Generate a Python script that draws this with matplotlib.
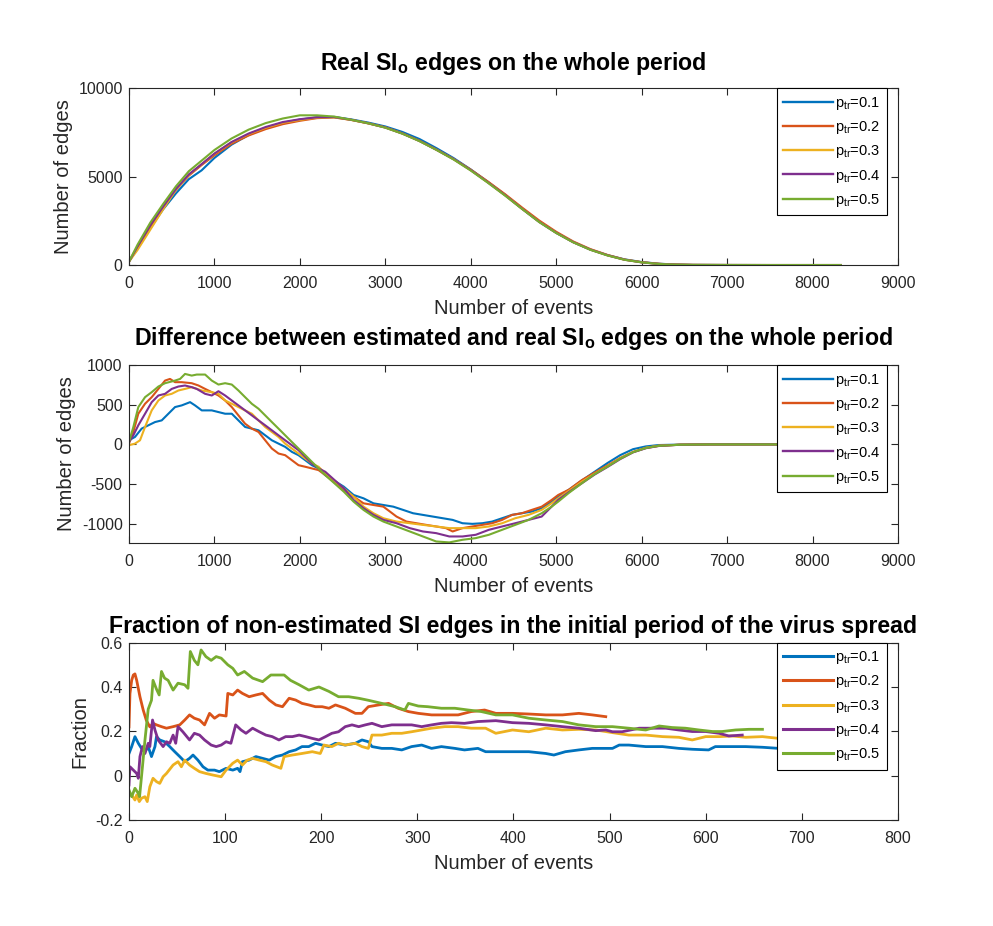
import matplotlib
matplotlib.use("Agg")
import matplotlib.pyplot as plt

plt.rcParams['font.family'] = ['Liberation Sans', 'DejaVu Sans']
plt.rcParams['mathtext.fontset'] = 'custom'
plt.rcParams['mathtext.rm'] = 'Liberation Sans'
plt.rcParams['mathtext.it'] = 'Liberation Sans'
plt.rcParams['mathtext.bf'] = 'Liberation Sans:bold'
plt.rcParams['mathtext.default'] = 'regular'
plt.rcParams['axes.unicode_minus'] = False

COLORS = ['#0072BD', '#D95319', '#EDB120', '#7E2F8E', '#77AC30']
LABELS = [r'p$_{tr}$=0.1', r'p$_{tr}$=0.2', r'p$_{tr}$=0.3', r'p$_{tr}$=0.4', r'p$_{tr}$=0.5']

TITLES = [r'Real SI$_{\mathbf{o}}$ edges on the whole period',
          r'Difference between estimated and real SI$_{\mathbf{o}}$ edges on the whole period',
          'Fraction of non-estimated SI edges in the initial period of the virus spread']

# ---------------- Panel 1: real SI_o edges ----------------
P1_X = [0, 100, 250, 400, 550, 700, 850, 1000, 1200, 1400, 1600, 1800, 2000, 2200, 2400,
        2600, 2800, 3000, 3200, 3400, 3600, 3800, 4000, 4200, 4400, 4600, 4800, 5000,
        5200, 5400, 5600, 5800, 6000, 6200, 6400, 6600, 7000, 7500, 8000, 8330]
P1_BLUE = [190, 950, 2100, 3150, 4050, 4850, 5350, 6050, 6800, 7350, 7750, 8040, 8220, 8340, 8370,
           8230, 8050, 7830, 7520, 7120, 6600, 6040, 5400, 4700, 3970, 3190, 2450, 1820,
           1290, 870, 560, 320, 170, 75, 28, 8, 2, 0, 0, 0]
P1_ORANGE = [190, 1000, 2200, 3250, 4250, 5050, 5650, 6200, 6850, 7320, 7680, 7960, 8150, 8300, 8340,
             8200, 8010, 7780, 7440, 7020, 6520, 5990, 5390, 4720, 4010, 3250, 2520, 1880,
             1330, 900, 570, 310, 160, 70, 25, 8, 2, 0, 0, 0]
P1_YELLOW = [190, 850, 2000, 3150, 4250, 5100, 5700, 6280, 6930, 7400, 7760, 8040, 8200, 8330, 8350,
             8200, 8000, 7770, 7430, 7010, 6510, 5980, 5360, 4670, 3950, 3180, 2450, 1820,
             1290, 870, 550, 300, 155, 65, 22, 7, 2, 0, 0, 0]
P1_PURPLE = [190, 1050, 2250, 3300, 4300, 5120, 5700, 6300, 6950, 7430, 7800, 8080, 8240, 8350, 8360,
             8210, 8010, 7770, 7430, 7010, 6510, 5980, 5360, 4670, 3950, 3180, 2440, 1820,
             1290, 870, 550, 300, 150, 62, 20, 6, 2, 0, 0, 0]
P1_GREEN = [190, 1150, 2400, 3450, 4450, 5300, 5900, 6500, 7150, 7650, 8020, 8280, 8460, 8460, 8390,
            8210, 8010, 7760, 7420, 7000, 6500, 5960, 5340, 4650, 3930, 3170, 2430, 1810,
            1280, 860, 540, 295, 150, 60, 20, 6, 2, 0, 0, 0]

# ---------------- Panel 2: difference ----------------
P2_BLUE_X = [0, 70, 148, 227, 305, 383, 461, 539, 617, 715, 773, 852, 969, 1047, 1125, 1203, 1281,
             1359, 1438, 1516, 1594, 1672, 1750, 1828, 1906, 1984, 2063, 2141, 2219, 2297, 2514,
             2629, 2745, 2861, 2977, 3093, 3208, 3324, 3440, 3556, 3672, 3788, 3903, 4019, 4135,
             4251, 4367, 4483, 4598, 4714, 4830, 4946, 5023, 5150, 5300, 5450, 5600, 5750, 5900,
             6050, 6200, 6450, 6800, 7300, 7900]
P2_BLUE_Y = [52, 94, 199, 241, 282, 303, 387, 471, 492, 533, 492, 429, 429, 408, 387, 387, 303,
             220, 199, 178, 115, 52, 10, -31, -94, -136, -199, -262, -303, -387, -533,
             -638, -680, -743, -764, -785, -826, -868, -889, -910, -931, -952, -994, -1002, -994,
             -973, -931, -889, -868, -847, -805, -722, -659, -570, -455, -345, -235, -135, -60,
             -25, -8, -2, 0, 0, 0]
P2_ORANGE_X = [0, 51, 109, 188, 266, 344, 422, 480, 539, 617, 734, 813, 891, 969, 1047, 1125, 1203,
               1281, 1359, 1438, 1516, 1594, 1672, 1750, 1828, 1906, 1984, 2063, 2141, 2219, 2297,
               2514, 2629, 2745, 2861, 2977, 3054, 3131, 3247, 3363, 3479, 3595, 3710, 3788, 3903,
               4019, 4135, 4251, 4367, 4483, 4598, 4714, 4830, 4946, 5023, 5150, 5300, 5450, 5600,
               5750, 5900, 6050, 6200, 6450, 6800, 7400, 8100]
P2_ORANGE_Y = [10, 157, 387, 513, 596, 700, 805, 826, 785, 785, 772, 743, 700, 659, 617, 554, 471,
               366, 261, 199, 157, 52, -52, -115, -136, -199, -262, -282, -303, -324, -387,
               -575, -659, -743, -764, -785, -847, -910, -973, -994, -1015, -1035, -1056, -1098, -1056,
               -1035, -1015, -994, -952, -889, -868, -826, -785, -701, -638, -570, -450, -355, -265,
               -170, -95, -45, -18, -4, 0, 0, 0]
P2_YELLOW_X = [0, 70, 129, 188, 266, 344, 422, 500, 578, 656, 734, 852, 969, 1047, 1125, 1203, 1281,
               1359, 1438, 1516, 1594, 1672, 1750, 1828, 1906, 1984, 2063, 2141, 2219, 2297, 2514,
               2629, 2745, 2861, 2977, 3131, 3286, 3440, 3595, 3749, 3903, 4058, 4212, 4367, 4521,
               4676, 4830, 4946, 5023, 5150, 5300, 5450, 5600, 5750, 5900, 6050, 6200, 6450, 6800,
               7500, 8000]
P2_YELLOW_Y = [-10, 10, 52, 220, 429, 554, 617, 638, 680, 700, 722, 680, 659, 638, 554, 513, 471,
               429, 387, 303, 220, 157, 94, 10, -52, -115, -178, -241, -282, -366, -554,
               -659, -785, -868, -931, -973, -994, -1015, -1035, -1056, -1056, -1056, -1035, -994, -931,
               -889, -826, -743, -680, -585, -470, -370, -275, -175, -95, -42, -16, -3, 0,
               0, 0]
P2_PURPLE_X = [0, 51, 109, 188, 266, 344, 422, 500, 578, 656, 734, 793, 891, 969, 1047, 1125, 1203,
               1281, 1359, 1438, 1516, 1594, 1672, 1750, 1828, 1906, 1984, 2063, 2141, 2219, 2297,
               2514, 2629, 2745, 2861, 2977, 3131, 3286, 3440, 3595, 3749, 3903, 4058, 4212, 4367,
               4521, 4676, 4830, 4946, 5023, 5150, 5300, 5450, 5600, 5750, 5900, 6050, 6200, 6450,
               6800, 7600, 8200]
P2_PURPLE_Y = [31, 115, 241, 387, 533, 617, 638, 700, 730, 743, 722, 700, 638, 617, 671, 617, 554,
               492, 429, 366, 303, 241, 178, 115, 52, -10, -73, -157, -241, -303, -345,
               -554, -701, -805, -889, -952, -994, -1056, -1098, -1119, -1161, -1161, -1140, -1077, -1035,
               -994, -952, -910, -785, -701, -600, -490, -380, -285, -185, -100, -48, -20, -4,
               0, 0, 0]
P2_GREEN_X = [0, 51, 109, 188, 266, 344, 422, 539, 598, 656, 734, 793, 891, 969, 1047, 1125, 1203,
              1281, 1359, 1438, 1516, 1594, 1672, 1750, 1828, 1906, 1984, 2063, 2141, 2219, 2297,
              2514, 2629, 2745, 2861, 2977, 3131, 3286, 3440, 3595, 3749, 3903, 4058, 4212, 4367,
              4521, 4676, 4830, 4946, 5023, 5150, 5300, 5450, 5600, 5750, 5900, 6050, 6200, 6450,
              6800, 7600, 8330]
P2_GREEN_Y = [31, 220, 470, 596, 659, 730, 772, 805, 826, 889, 868, 881, 881, 805, 755, 772, 755,
              680, 596, 512, 450, 366, 282, 199, 115, 31, -52, -136, -220, -303, -387,
              -596, -722, -826, -910, -973, -1035, -1098, -1161, -1224, -1236, -1203, -1182, -1140, -1077,
              -1015, -952, -868, -785, -722, -610, -490, -375, -280, -180, -98, -45, -18, -4,
              0, 0, 0]

# ---------------- Panel 3: fraction ----------------
P3_BLUE_X = [0, 2.8, 6.2, 9.7, 13, 16.6, 20, 23.4, 27, 28.6, 32, 37, 42.4, 47.6, 52.8, 58, 63, 66.6,
             71.7, 77, 82, 89, 94, 101, 108, 113, 115.5, 118, 125, 132, 139, 145.9, 152.8, 159.7,
             166.6, 173.4, 180, 187, 194, 201, 208, 214.8, 225, 235.5, 242.4, 249, 252.8, 263,
             273.4, 283.8, 294, 304.5, 314.8, 325, 339, 349, 363, 371, 385, 399, 416, 433.6, 442,
             454, 468, 482, 496, 503, 510, 520, 537.6, 555, 572, 586, 603, 610, 627.7, 641.6, 659,
             676, 700, 730, 770]
P3_BLUE_Y = [0.10, 0.131, 0.176, 0.146, 0.123, 0.108, 0.131, 0.086, 0.131, 0.176, 0.161, 0.153, 0.131,
             0.108, 0.086, 0.063, 0.078, 0.093, 0.07, 0.04, 0.025, 0.025, 0.018, 0.033, 0.025, 0.033,
             0.018, 0.063, 0.07, 0.086, 0.078, 0.07, 0.086, 0.093, 0.108, 0.116, 0.131, 0.131, 0.146,
             0.138, 0.131, 0.146, 0.138, 0.146, 0.161, 0.153, 0.131, 0.123, 0.123, 0.116, 0.131,
             0.138, 0.123, 0.131, 0.123, 0.116, 0.123, 0.108, 0.108, 0.108, 0.108, 0.10, 0.093,
             0.108, 0.116, 0.123, 0.123, 0.123, 0.138, 0.138, 0.131, 0.131, 0.123, 0.119, 0.116,
             0.131, 0.131, 0.131, 0.128, 0.123, 0.122, 0.12, 0.12]
P3_ORANGE_X = [0, 1, 2.8, 4.5, 6.2, 8, 11.4, 14.8, 18, 21.7, 25, 28.6, 33.8, 39, 45.9, 52.8, 58, 63,
               68, 73.4, 78.6, 83.8, 89, 94, 101, 102.8, 108, 113, 118, 125, 132, 139, 145.9, 152.8,
               159.7, 166.6, 173.4, 180, 187, 194, 201, 208, 214.8, 225, 235.5, 242.4, 249, 259.7,
               270, 280, 290.7, 301, 314.8, 328.6, 342.4, 356, 370, 381.6, 399, 416, 433.6, 451,
               468, 482, 496]
P3_ORANGE_Y = [0.22, 0.37, 0.43, 0.454, 0.459, 0.43, 0.356, 0.296, 0.25, 0.22, 0.236, 0.229, 0.221,
               0.214, 0.221, 0.229, 0.251, 0.274, 0.259, 0.251, 0.229, 0.281, 0.259, 0.274, 0.269,
               0.371, 0.364, 0.386, 0.371, 0.356, 0.364, 0.371, 0.341, 0.319, 0.311, 0.349, 0.341,
               0.326, 0.319, 0.311, 0.311, 0.304, 0.319, 0.304, 0.281, 0.281, 0.311, 0.319, 0.326,
               0.304, 0.289, 0.281, 0.274, 0.274, 0.274, 0.289, 0.296, 0.281, 0.281, 0.278, 0.274,
               0.274, 0.281, 0.274, 0.266]
P3_YELLOW_X = [0, 2.8, 6.2, 8, 10.7, 13, 16.6, 19, 21.7, 25, 28.6, 32, 35.5, 39, 45.9, 51, 54.5, 58,
               63, 68, 73.4, 80, 87, 95.9, 101, 108, 113, 118, 123, 128.6, 135.5, 142.4, 149, 158,
               161.4, 170, 180, 190.7, 199, 202.8, 211, 218, 225, 235.5, 242.4, 249, 252.8, 263,
               273.4, 283.8, 294, 304.5, 314.8, 328.6, 342.4, 356, 371, 381.6, 399, 416, 433.6, 451,
               468, 485.6, 503, 520, 537.6, 555, 572, 586, 600, 614, 627.7, 641.6, 659, 676, 700,
               730, 760]
P3_YELLOW_Y = [-0.08, -0.087, -0.11, -0.087, -0.117, -0.102, -0.095, -0.117, -0.05, -0.012, -0.027,
               -0.035, -0.005, 0.01, 0.048, 0.063, 0.04, 0.07, 0.048, 0.033, 0.018, 0.01, 0.003,
               -0.005, 0.025, 0.056, 0.07, 0.048, 0.07, 0.078, 0.07, 0.063, 0.048, 0.033, 0.086,
               0.093, 0.10, 0.108, 0.10, 0.138, 0.131, 0.146, 0.138, 0.146, 0.131, 0.123, 0.183,
               0.183, 0.191, 0.191, 0.198, 0.206, 0.214, 0.221, 0.221, 0.214, 0.214, 0.191, 0.206,
               0.198, 0.214, 0.206, 0.209, 0.206, 0.194, 0.183, 0.183, 0.176, 0.173, 0.161, 0.176,
               0.176, 0.179, 0.173, 0.176, 0.168, 0.165, 0.162, 0.16]
P3_PURPLE_X = [0, 1, 4.5, 8, 9.7, 11.4, 14, 16.6, 20, 21.7, 24.5, 27, 30.3, 35.5, 39, 42.4, 45.9,
               48.6, 51, 56, 63, 68, 73.4, 78.6, 85.5, 90.7, 95.9, 101, 106, 111, 116.6, 121.7,
               128.6, 135.5, 142.4, 149, 156, 163, 170, 177, 183.8, 190.7, 197.6, 204.5, 211, 218,
               225, 232, 239, 245.9, 252.8, 263, 273.4, 283.8, 294, 304.5, 314.8, 325, 335.5, 349,
               363, 381.6, 399, 416, 433.6, 451, 468, 485.6, 496, 503, 513, 530.7, 544.6, 558.5,
               572, 586, 600, 614, 624, 638]
P3_PURPLE_Y = [-0.042, 0.04, 0.025, 0.01, -0.012, 0.086, 0.131, 0.10, 0.146, 0.131, 0.251, 0.206,
               0.161, 0.131, 0.153, 0.146, 0.183, 0.146, 0.221, 0.198, 0.161, 0.191, 0.183, 0.161,
               0.138, 0.131, 0.138, 0.153, 0.146, 0.229, 0.206, 0.191, 0.214, 0.198, 0.183, 0.176,
               0.161, 0.176, 0.176, 0.183, 0.176, 0.168, 0.161, 0.176, 0.191, 0.198, 0.221, 0.229,
               0.221, 0.229, 0.236, 0.221, 0.229, 0.229, 0.229, 0.221, 0.229, 0.236, 0.239, 0.236,
               0.244, 0.248, 0.239, 0.236, 0.229, 0.221, 0.214, 0.203, 0.206, 0.198, 0.198, 0.214,
               0.214, 0.214, 0.206, 0.199, 0.199, 0.191, 0.179, 0.183]
P3_GREEN_X = [0, 2.8, 6.2, 9.7, 11, 14, 16.6, 20, 23.4, 25, 28.6, 31.4, 33.8, 37, 40.7, 45.9, 51,
              57.9, 61.4, 63.8, 68, 71.7, 75, 80, 85.5, 90.7, 95.9, 102.8, 108, 113, 120, 128.6,
              139, 147.6, 156, 161.4, 168, 177, 187, 197.6, 208, 218, 228.6, 239, 249, 263, 277,
              287, 290.7, 301, 311, 325, 339, 353, 366.6, 381.6, 399, 416, 433.6, 451, 468, 485.6,
              503, 520, 537.6, 551.5, 565, 579, 593, 607, 617, 631, 645, 659]
P3_GREEN_Y = [-0.065, -0.095, -0.057, -0.08, -0.095, 0.04, 0.16, 0.30, 0.34, 0.43, 0.39, 0.364, 0.47,
              0.44, 0.43, 0.386, 0.417, 0.41, 0.394, 0.56, 0.52, 0.50, 0.567, 0.537, 0.52, 0.537,
              0.53, 0.50, 0.484, 0.454, 0.47, 0.44, 0.424, 0.454, 0.454, 0.454, 0.43, 0.41, 0.386,
              0.40, 0.38, 0.356, 0.356, 0.349, 0.34, 0.326, 0.311, 0.296, 0.326, 0.314, 0.311,
              0.304, 0.304, 0.296, 0.289, 0.274, 0.274, 0.259, 0.251, 0.244, 0.229, 0.221, 0.221,
              0.214, 0.206, 0.224, 0.217, 0.214, 0.206, 0.199, 0.199, 0.206, 0.209, 0.209]

P1_SERIES = [(P1_X, P1_BLUE), (P1_X, P1_ORANGE), (P1_X, P1_YELLOW), (P1_X, P1_PURPLE), (P1_X, P1_GREEN)]
P2_SERIES = [(P2_BLUE_X, P2_BLUE_Y), (P2_ORANGE_X, P2_ORANGE_Y), (P2_YELLOW_X, P2_YELLOW_Y),
             (P2_PURPLE_X, P2_PURPLE_Y), (P2_GREEN_X, P2_GREEN_Y)]
P3_SERIES = [(P3_BLUE_X, P3_BLUE_Y), (P3_ORANGE_X, P3_ORANGE_Y), (P3_YELLOW_X, P3_YELLOW_Y),
             (P3_PURPLE_X, P3_PURPLE_Y), (P3_GREEN_X, P3_GREEN_Y)]

P1_YTICKS = [0, 5000, 10000]
P2_YTICKS = [-1000, -500, 0, 500, 1000]
P3_YTICKS = [-0.2, 0, 0.2, 0.4, 0.6]
P12_XTICKS = [0, 1000, 2000, 3000, 4000, 5000, 6000, 7000, 8000, 9000]
P3_XTICKS = [0, 100, 200, 300, 400, 500, 600, 700, 800]

AX_COLOR = '#262626'

fig = plt.figure(figsize=(9.93, 9.26), dpi=100)
fig.patch.set_facecolor('white')

positions = [[0.1299, 0.7138, 0.7744, 0.1911],
             [0.1299, 0.4139, 0.7744, 0.1918],
             [0.1299, 0.1145, 0.7744, 0.1915]]
title_pads = [13.0, 14.4, 7.2]
configs = [
    (P1_SERIES, (0, 9000), (0, 10000), P12_XTICKS, P1_YTICKS, 'Number of edges', 1.5),
    (P2_SERIES, (0, 9000), (-1240, 1000), P12_XTICKS, P2_YTICKS, 'Number of edges', 1.5),
    (P3_SERIES, (0, 800), (-0.2, 0.6), P3_XTICKS, P3_YTICKS, 'Fraction', 2.0),
]

for i, (series, xl, yl, xt, yt, ylab, lw) in enumerate(configs):
    ax = fig.add_axes(positions[i])
    for (xs, ys), c, lab in zip(series, COLORS, LABELS):
        ax.plot(xs, ys, color=c, lw=lw, label=lab)
    ax.set_xlim(*xl)
    ax.set_ylim(*yl)
    ax.set_xticks(xt)
    ax.set_yticks(yt)
    ax.set_xticklabels(['%d' % v for v in xt])
    ax.set_yticklabels([('%g' % v) for v in yt])
    ax.tick_params(direction='in', top=True, right=True, length=5, width=0.8,
                   labelsize=11.5, colors=AX_COLOR)
    ax.tick_params(axis='x', pad=8)
    ax.tick_params(axis='y', pad=4.5)
    for sp in ax.spines.values():
        sp.set_color(AX_COLOR)
        sp.set_linewidth(0.8)
    ax.set_xlabel('Number of events', fontsize=14.5, color=AX_COLOR, labelpad=6)
    ax.set_ylabel(ylab, fontsize=14.5, color=AX_COLOR, labelpad=4)
    ax.set_title(TITLES[i], fontsize=16.7, fontweight='bold', pad=title_pads[i])
    leg = ax.legend(loc='upper right', bbox_to_anchor=(1 - 11 / 769, 1.0), borderaxespad=0,
                    fontsize=10.5, handlelength=3.4, handletextpad=0.15, labelspacing=0.5,
                    frameon=True, fancybox=False, edgecolor='black', framealpha=1,
                    borderpad=0.45)
    leg.get_frame().set_linewidth(0.8)
    for line in leg.get_lines():
        line.set_linewidth(lw + 0.2)

fig.savefig('out.png', dpi=100, facecolor='white')
